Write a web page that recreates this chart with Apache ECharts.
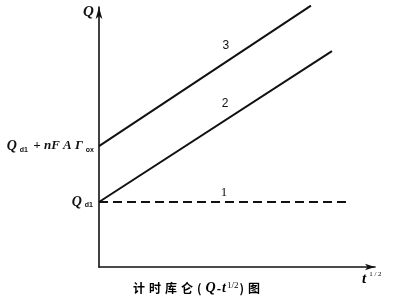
<!DOCTYPE html>
<html><head><meta charset="utf-8">
<script src="https://cdn.jsdelivr.net/npm/echarts@6/dist/echarts.min.js"></script>
<style>html,body{margin:0;padding:0;background:#fff}#c{width:398px;height:300px}</style>
</head><body><div id="c"></div>
<script>
// Data (arbitrary units along t^{1/2} and Q)
const line1X = [0, 9.0];
const line1Y = [2.5, 2.5];
const line2X = [0, 8.44];
const line2Y = [2.5, 8.3];
const line3X = [0, 7.68];
const line3Y = [4.65, 10.05];
const curveLabels = ['1', '2', '3'];
const curveLabelX = [4.53, 4.57, 4.6];
const curveLabelY = [2.85, 6.27, 8.5];
const yMarks = [2.5, 4.65];

function pairs(xs, ys){ return xs.map((x,i)=>[x, ys[i]]); }

const chart = echarts.init(document.getElementById('c'));
const serif = '"Liberation Serif","DejaVu Serif",serif';
const sans = '"Liberation Sans","DejaVu Sans",sans-serif';
const rich = {
  q:{fontFamily:serif,fontStyle:'italic',fontWeight:'bold',fontSize:14,color:'#111'},
  s:{fontFamily:sans,fontWeight:'bold',fontSize:7,color:'#111',padding:[7,2,0,3]},
  t:{fontFamily:serif,fontStyle:'italic',fontWeight:'bold',fontSize:13,color:'#111'}
};
function numLabel(i){
  return {coord:[curveLabelX[i], curveLabelY[i]], value: curveLabels[i]};
}
const numStyle = {show:true, color:'#111', fontFamily:sans, fontSize:12, formatter:p=>p.value};
chart.setOption({
  animation:false,
  grid:{left:99, right:23, top:7, bottom:33},
  xAxis:{type:'value', min:0, max:10, splitLine:{show:false}, axisTick:{show:false}, axisLabel:{show:false},
    axisLine:{lineStyle:{color:'#111', width:1.6}, symbol:['none','arrow'], symbolSize:[5,10]}},
  yAxis:{type:'value', min:0, max:10, splitLine:{show:false}, axisTick:{show:false}, axisLabel:{show:false},
    axisLine:{lineStyle:{color:'#111', width:1.6}, symbol:['none','arrow'], symbolSize:[5,12]}},
  series:[
    {type:'line', data:pairs(line1X,line1Y), symbol:'none', lineStyle:{color:'#111', width:2, type:[9,5]},
      markPoint:{symbol:'circle', symbolSize:0, label:Object.assign({}, numStyle, {fontFamily:serif, fontSize:13}),
        data:[numLabel(0)]}},
    {type:'line', data:pairs(line2X,line2Y), symbol:'none', lineStyle:{color:'#111', width:2},
      markPoint:{symbol:'circle', symbolSize:0, label:numStyle,
        data:[numLabel(1),
          {coord:[0, yMarks[0]], value:'a', label:{position:'left', distance:4, formatter:'{q|Q}{s|d1}', rich}}]}},
    {type:'line', data:pairs(line3X,line3Y), symbol:'none', clip:false, lineStyle:{color:'#111', width:2},
      markPoint:{symbol:'circle', symbolSize:0, label:numStyle,
        data:[numLabel(2),
          {coord:[0, yMarks[1]], value:'b', label:{position:'left', distance:3, formatter:'{q|Q}{s|d1}{t| + nF A Γ}{s|ox}', rich}}]}}
  ],
  graphic:[
    {type:'text', left:83, top:5, style:{text:'Q', font:'italic bold 15px '+serif, fill:'#111'}},
    {type:'text', left:362, top:271, style:{text:'{q|t}{s|1 / 2}', rich:{q:{fontFamily:serif,fontStyle:'italic',fontWeight:'bold',fontSize:15,color:'#111'}, s:{fontFamily:serif,fontSize:7,color:'#111',padding:[0,0,9,3]}}}},
    {type:'text', left:133, top:281, style:{text:'{c|计}{c|时}{c|库}{c|仑}{c|(}{q|Q}{p|-}{q|t}{s|1/2}{c|)}{c|图}', rich:{
      c:{fontFamily:'"Noto Sans CJK SC"',fontSize:12,fontWeight:'bold',color:'#222',padding:[0,4,0,0]},
      p:{fontFamily:'"Noto Sans CJK SC"',fontSize:12,fontWeight:'bold',color:'#222',padding:[0,1,0,1]},
      q:{fontFamily:serif,fontStyle:'italic',fontSize:14,fontWeight:'bold',color:'#222'},
      s:{fontFamily:serif,fontSize:9,color:'#222',padding:[0,1,6,1]}}}}
  ]
});
</script></body></html>
